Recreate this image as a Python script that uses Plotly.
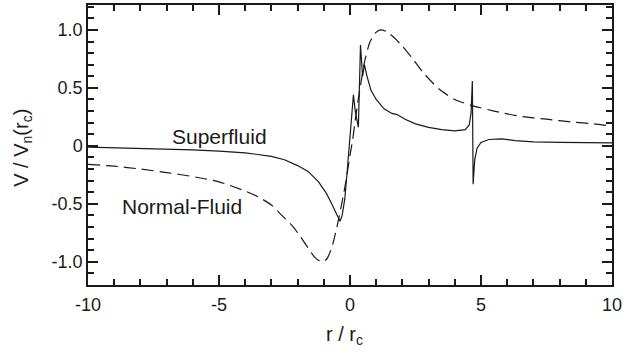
import plotly.graph_objects as go

# Normal-fluid (dashed) curve
r_normal = [-10, -9, -8, -7, -6, -5, -4, -3.5, -3, -2.6, -2.2, -1.9, -1.6, -1.35, -1.1,
            -0.9, -0.7, -0.5, -0.3, -0.15, 0, 0.1, 0.2, 0.3, 0.4, 0.55, 0.75, 0.95, 1.15,
            1.4, 1.7, 2.0, 2.4, 2.8, 3.4, 4.0, 4.7, 5.5, 6.5, 7.5, 8.5, 9.3, 10]
v_normal = [-0.16, -0.175, -0.20, -0.23, -0.265, -0.31, -0.39, -0.44, -0.51, -0.60, -0.69,
            -0.78, -0.88, -0.96, -1.0, -0.98, -0.88, -0.70, -0.48, -0.30, -0.08, 0.05,
            0.22, 0.38, 0.52, 0.72, 0.89, 0.97, 1.0, 0.985, 0.93, 0.86, 0.75, 0.63, 0.49,
            0.40, 0.345, 0.30, 0.255, 0.23, 0.205, 0.19, 0.17]

# Superfluid (solid) curve
r_super = [-10, -8, -6, -5, -4, -3, -2.5, -2, -1.6, -1.2, -0.9, -0.7, -0.55, -0.45, -0.38,
           -0.3, -0.2, -0.1, 0.0, 0.07, 0.13, 0.2, 0.32, 0.40, 0.48, 0.55, 0.65, 0.8, 1.0,
           1.3, 1.6, 1.8, 2.1, 2.5, 3.0, 3.5, 4.0, 4.4, 4.55, 4.62, 4.67, 4.70, 4.76, 4.85,
           5.0, 5.3, 5.8, 6.3, 7.0, 8.0, 9.0, 10]
v_super = [-0.01, -0.02, -0.035, -0.045, -0.06, -0.09, -0.12, -0.17, -0.22, -0.31, -0.41,
           -0.50, -0.57, -0.63, -0.65, -0.60, -0.46, -0.20, 0.05, 0.22, 0.44, 0.30, 0.16,
           0.87, 0.60, 0.70, 0.60, 0.48, 0.40, 0.32, 0.28, 0.27, 0.23, 0.19, 0.16, 0.14,
           0.13, 0.14, 0.18, 0.28, 0.56, -0.33, -0.12, -0.02, 0.03, 0.055, 0.06, 0.045,
           0.035, 0.03, 0.03, 0.025]

x_range = [-10, 10]
y_range = [-1.2, 1.215]
x_tickvals = [-10, -5, 0, 5, 10]
x_ticktext = ["-10", "-5", "0", "5", "10"]
y_tickvals = [1.0, 0.5, 0, -0.5, -1.0]
y_ticktext = ["1.0", "0.5", "0", "-0.5", "-1.0"]

ink = "#1a1a1a"
font_family = "Liberation Sans, Arial, Helvetica, sans-serif"

fig = go.Figure()
fig.add_trace(go.Scatter(x=r_normal, y=v_normal, mode="lines",
                         line=dict(color=ink, width=1.2, dash="12px,6px", shape="spline", smoothing=0.6),
                         showlegend=False, hoverinfo="skip"))
fig.add_trace(go.Scatter(x=r_super, y=v_super, mode="lines",
                         line=dict(color=ink, width=1.2),
                         showlegend=False, hoverinfo="skip"))

label_font = dict(family=font_family, size=18, color=ink)
axis_common = dict(showgrid=False, zeroline=False, showline=True, linecolor=ink, linewidth=1.5,
                   mirror="allticks", ticks="inside", ticklen=10, tickwidth=2, tickcolor=ink,
                   tickfont=label_font)

fig.update_layout(
    xaxis=dict(range=x_range, tickmode="array", tickvals=x_tickvals, ticktext=x_ticktext,
               minor=dict(dtick=1, tick0=0, ticklen=6, tickwidth=1.5, tickcolor=ink, ticks="inside"),
               ticklabelstandoff=3, **axis_common),
    yaxis=dict(range=y_range, tickmode="array", tickvals=y_tickvals, ticktext=y_ticktext,
               minor=dict(dtick=0.1, tick0=0, ticklen=6, tickwidth=1.5, tickcolor=ink, ticks="inside"),
               **axis_common),
)

fig.add_annotation(x=-4.97, y=0.078, xref="x", yref="y", text="Superfluid", showarrow=False,
                   font=dict(family=font_family, size=21, color=ink))
fig.add_annotation(x=-6.41, y=-0.52, xref="x", yref="y", text="Normal-Fluid", showarrow=False,
                   font=dict(family=font_family, size=21, color=ink))
fig.add_annotation(x=0.49, y=0, xref="paper", yref="paper", yshift=-50, yanchor="middle",
                   text="r / r<sub>c</sub>", showarrow=False,
                   font=dict(family=font_family, size=20, color=ink))
fig.add_annotation(x=0, y=0.49, xref="paper", yref="paper", xshift=-65, xanchor="center",
                   yanchor="middle", textangle=-90,
                   text="V / V<sub>n</sub>(r<sub>c</sub>)", showarrow=False,
                   font=dict(family=font_family, size=20, color=ink))

fig.update_layout(width=636, height=360, margin=dict(l=88, r=24, t=5, b=75, autoexpand=False),
                  paper_bgcolor="white", plot_bgcolor="white",
                  font=dict(family=font_family, color=ink))

fig.write_html("out.html", config={"displayModeBar": False},
               post_script="document.body.style.margin='0';")
